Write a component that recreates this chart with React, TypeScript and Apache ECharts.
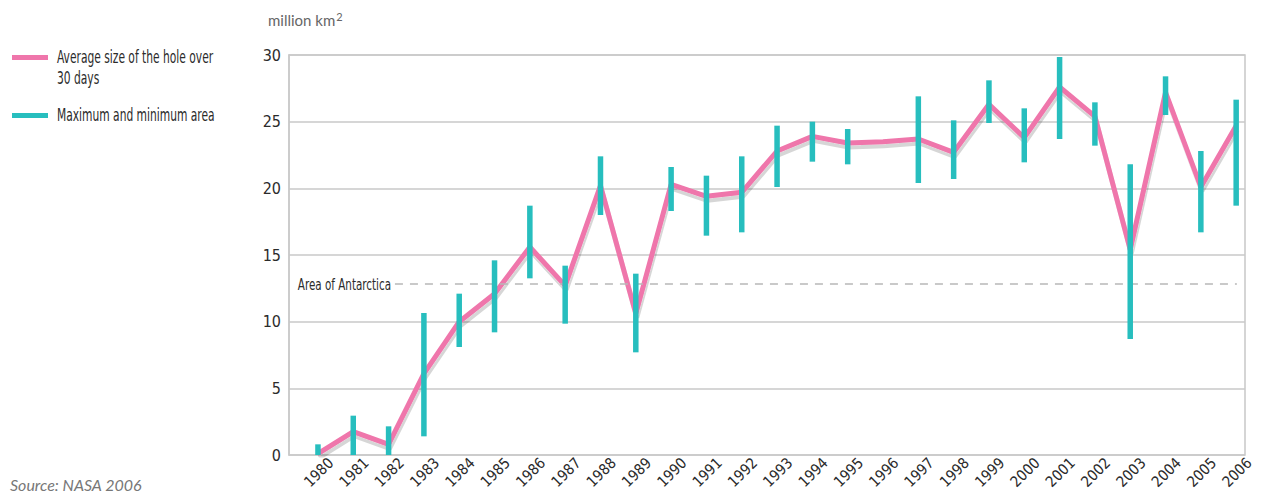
import React, { useEffect, useRef } from "react";
import * as echarts from "echarts";

const years = [1980, 1981, 1982, 1983, 1984, 1985, 1986, 1987, 1988, 1989, 1990, 1991, 1992, 1993, 1994, 1995, 1996, 1997, 1998, 1999, 2000, 2001, 2002, 2003, 2004, 2005, 2006];
const averageArea = [0.1, 1.75, 0.8, 6.1, 10.0, 12.1, 15.6, 12.7, 20.2, 10.6, 20.3, 19.4, 19.7, 22.8, 23.9, 23.4, 23.5, 23.7, 22.7, 26.3, 23.8, 27.6, 25.4, 15.4, 27.2, 20.1, 24.7];
const minArea = [0, 0, 0, 1.4, 8.1, 9.2, 13.25, 9.85, 18.0, 7.7, 18.3, 16.45, 16.7, 20.1, 22.0, 21.8, null, 20.4, 20.7, 24.9, 21.95, 23.7, 23.2, 8.7, 25.5, 16.7, 18.7];
const maxArea = [0.8, 2.95, 2.15, 10.65, 12.1, 14.6, 18.7, 14.2, 22.4, 13.6, 21.6, 20.95, 22.4, 24.7, 25.0, 24.45, null, 26.9, 25.1, 28.1, 26.0, 29.85, 26.45, 21.8, 28.4, 22.8, 26.65];
const antarcticaArea = 12.85;
const yTicks = [0, 5, 10, 15, 20, 25, 30];

const PINK = "#EF76AB";
const TEAL = "#27BEBE";
const NARROW = '"Liberation Sans Narrow", "DejaVu Sans Condensed", "Roboto Condensed", Arial, sans-serif';

export default function App() {
  const ref = useRef<HTMLDivElement>(null);
  useEffect(() => {
    if (!ref.current) return;
    const chart = echarts.init(ref.current, null, { renderer: "svg" });
    const xMin = 1979.18;
    const xMax = 2006.25;
    const rangeData = years
      .map((y, i) => [y, minArea[i], maxArea[i]])
      .filter((d) => d[1] !== null && d[2] !== null);
    chart.setOption({
      animation: false,
      backgroundColor: "#ffffff",
      grid: [
        { left: 289, right: 42, top: 55, bottom: 37, show: true, borderColor: "#c8c8c8", borderWidth: 1.5, backgroundColor: "transparent" },
        { left: 302, right: 29, top: 55, bottom: 37, show: false },
      ],
      xAxis: [
        { type: "value", gridIndex: 0, min: xMin, max: xMax, show: false },
        {
          type: "value", gridIndex: 1, min: xMin, max: xMax, minInterval: 1, maxInterval: 1,
          axisLine: { show: false }, axisTick: { show: false }, splitLine: { show: false },
          axisLabel: {
            rotate: 45, margin: 10, fontFamily: NARROW, fontSize: 15, color: "#2b2b2b",
            showMinLabel: true, showMaxLabel: true,
            formatter: (v: number) => (Math.abs(v - Math.round(v)) < 1e-6 ? String(Math.round(v)) : ""),
          },
        },
      ],
      yAxis: [
        {
          type: "value", gridIndex: 0, min: yTicks[0], max: yTicks[yTicks.length - 1], interval: 5,
          axisLine: { show: true, lineStyle: { color: "#c8c8c8", width: 1.5 } },
          axisTick: { show: false },
          splitLine: { show: true, lineStyle: { color: "#c8c8c8", width: 1.5 } },
          axisLabel: { margin: 8, fontFamily: NARROW, fontSize: 16, color: "#2b2b2b" },
        },
        { type: "value", gridIndex: 1, min: 0, max: 30, show: false },
      ],
      series: [
        {
          name: "Average size of the hole over 30 days",
          type: "line",
          xAxisIndex: 0, yAxisIndex: 0,
          z: 2,
          data: years.map((y, i) => [y, averageArea[i]]),
          symbol: "none",
          lineStyle: { color: PINK, width: 5, shadowColor: "rgba(0,0,0,0.16)", shadowOffsetX: 1, shadowOffsetY: 4, shadowBlur: 1 },
          markLine: {
            silent: true, symbol: "none",
            lineStyle: { color: "#b8b8b8", type: [8, 7], width: 1.5 },
            label: { show: false },
            data: [[{ coord: [1982.18, antarcticaArea] }, { coord: [2006.02, antarcticaArea] }]],
          },
        },
        {
          name: "Maximum and minimum area",
          type: "custom",
          xAxisIndex: 0, yAxisIndex: 0,
          z: 5,
          data: rangeData,
          encode: { x: 0, y: [1, 2] },
          renderItem: (params: any, api: any) => {
            const x = api.value(0);
            const top = api.coord([x, api.value(2)]);
            const bot = api.coord([x, api.value(1)]);
            const w = 5.5;
            return {
              type: "rect",
              shape: { x: top[0] - w / 2, y: top[1], width: w, height: bot[1] - top[1] },
              style: { fill: TEAL },
            };
          },
        },
      ],
      graphic: [
        { type: "rect", x: 12, y: 55, shape: { width: 36, height: 5 }, style: { fill: PINK } },
        { type: "text", x: 57, y: 57, scaleX: 0.7, style: { text: "Average size of the hole over\n30 days", fontFamily: NARROW, fontSize: 17, lineHeight: 21, fill: "#2b2b2b", verticalAlign: "top", y: -10.5 } },
        { type: "rect", x: 12, y: 113, shape: { width: 36, height: 5 }, style: { fill: TEAL } },
        { type: "text", x: 57, y: 115, scaleX: 0.7, style: { text: "Maximum and minimum area", fontFamily: NARROW, fontSize: 17, fill: "#2b2b2b", verticalAlign: "middle" } },
        { type: "text", x: 391, y: 284, scaleX: 0.72, style: { text: "Area of Antarctica", fontFamily: NARROW, fontSize: 16, fill: "#2b2b2b", align: "right", verticalAlign: "middle" } },
        {
          type: "text", x: 268, y: 20,
          style: {
            text: "million km{s|2}", fontFamily: "Lato, 'Open Sans', sans-serif", fontSize: 15, fill: "#666666", verticalAlign: "middle",
            rich: { s: { fontFamily: "Lato, 'Open Sans', sans-serif", fontSize: 11, fill: "#666666", padding: [0, 0, 7, 1] } },
          },
        },
        { type: "text", x: 10, y: 484, style: { text: "Source: NASA 2006", fontFamily: "Lato, 'Open Sans', sans-serif", fontStyle: "italic", fontSize: 16, fill: "#777777", verticalAlign: "middle" } },
      ],
    });
    return () => chart.dispose();
  }, []);
  return <div ref={ref} style={{ position: "fixed", left: 0, top: 0, width: 1287, height: 492 }} />;
}
